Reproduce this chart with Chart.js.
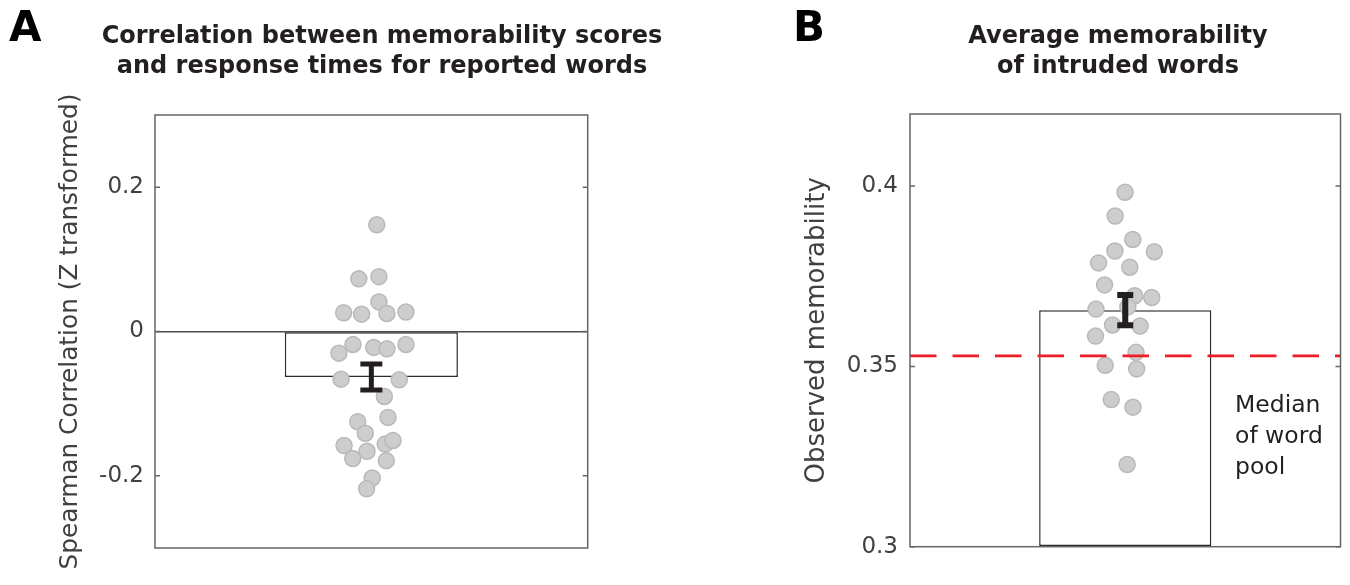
<!DOCTYPE html>
<html><head><meta charset="utf-8">
<script src="https://cdn.jsdelivr.net/npm/chart.js@4.4.0/dist/chart.umd.min.js"></script>
<style>
html,body{margin:0;padding:0;background:#fff;width:1350px;height:585px;overflow:hidden;}
canvas{position:absolute;top:0;}
#cA{left:0px} #cB{left:675px}
</style></head><body>
<canvas id="cA" width="675" height="585"></canvas>
<canvas id="cB" width="675" height="585"></canvas>
<script>
// ---------- data ----------
const panelLetters = ['A', 'B'];
const titleA = ['Correlation between memorability scores', 'and response times for reported words'];
const titleB = ['Average memorability', 'of intruded words'];
const yLabelA = 'Spearman Correlation (Z transformed)';
const yLabelB = 'Observed memorability';

const xRange = [0, 2];
const barX = 1;

const yRangeA = [-0.3, 0.3];
const yTicksA = [-0.2, 0, 0.2];
const yTickLabelsA = ['-0.2', '0', '0.2'];
const meanA = -0.063;
const semA = 0.018;
const subjXA = [1.025, 0.942, 1.035, 1.035, 0.872, 0.955, 1.072, 1.160, 0.850, 0.915, 1.011, 1.072, 1.160, 0.860,
                1.129, 1.060, 1.077, 0.937, 0.972, 0.874, 1.064, 1.100, 0.980, 0.914, 1.069, 1.004, 0.978];
const subjYA = [0.148, 0.073, 0.076, 0.041, 0.026, 0.024, 0.025, 0.027, -0.030, -0.018, -0.022, -0.024, -0.018, -0.066,
                -0.067, -0.090, -0.119, -0.125, -0.141, -0.158, -0.156, -0.151, -0.166, -0.176, -0.179, -0.203, -0.218];

const yRangeB = [0.3, 0.42];
const yTicksB = [0.3, 0.35, 0.4];
const yTickLabelsB = ['0.3', '0.35', '0.4'];
const meanB = 0.3656;
const semB = 0.0042;
const subjXB = [0.999, 0.953, 1.035, 0.952, 1.135, 0.876, 1.021, 0.904, 1.044, 1.123, 0.864, 1.012, 0.941, 1.069,
                0.862, 1.050, 0.907, 1.053, 0.935, 1.036, 1.009];
const subjYB = [0.3983, 0.3917, 0.3852, 0.3820, 0.3818, 0.3787, 0.3775, 0.3726, 0.3696, 0.3691, 0.3659, 0.3665, 0.3615, 0.3612,
                0.3584, 0.3539, 0.3503, 0.3493, 0.3408, 0.3387, 0.3228];
const medianWordPool = 0.3529;
const medianLabel = ['Median', 'of word', 'pool'];

// ---------- helpers ----------
const FONT = '"DejaVu Sans", "Liberation Sans", sans-serif';

const framePlugin = {
  id: 'frame',
  afterDraw(chart) {
    const {ctx, chartArea: a} = chart;
    const ys = chart.scales.y;
    ctx.save();
    ctx.strokeStyle = '#666666';
    ctx.lineWidth = 1.5;
    ctx.strokeRect(a.left, a.top, a.right - a.left, a.bottom - a.top);
    ctx.beginPath();
    ys.ticks.forEach(t => {
      const py = ys.getPixelForValue(t.value);
      ctx.moveTo(a.left, py); ctx.lineTo(a.left + 5, py);
      ctx.moveTo(a.right - 5, py); ctx.lineTo(a.right, py);
    });
    ctx.stroke();
    ctx.restore();
  }
};

function errorBarPlugin(mean, sem, capHalf, lw) {
  return {
    id: 'errbar',
    afterDatasetsDraw(chart) {
      const {ctx} = chart;
      const xs = chart.scales.x, ys = chart.scales.y;
      const px = xs.getPixelForValue(barX);
      const yt = ys.getPixelForValue(mean + sem);
      const yb = ys.getPixelForValue(mean - sem);
      ctx.save();
      ctx.strokeStyle = '#231f20';
      ctx.lineWidth = lw;
      ctx.lineCap = 'butt';
      ctx.beginPath();
      ctx.moveTo(px, yt); ctx.lineTo(px, yb);
      ctx.moveTo(px - capHalf, yt); ctx.lineTo(px + capHalf, yt);
      ctx.moveTo(px - capHalf, yb); ctx.lineTo(px + capHalf, yb);
      ctx.stroke();
      ctx.restore();
    }
  };
}

function textPlugin(items) {
  return {
    id: 'texts',
    afterDraw(chart) {
      const {ctx} = chart;
      ctx.save();
      items.forEach(it => {
        ctx.font = it.font;
        ctx.fillStyle = it.color;
        ctx.textAlign = it.align;
        ctx.textBaseline = 'alphabetic';
        ctx.fillText(it.text, it.x, it.y);
      });
      ctx.restore();
    }
  };
}

function pointsFrom(xs, ys) { return xs.map((x, i) => ({x: x, y: ys[i]})); }

function yScale(range, ticks, labels, width, pad, title, titleSize, titlePad, zeroLine) {
  return {
    min: range[0], max: range[1],
    afterFit: s => { s.width = width; },
    afterBuildTicks: s => { s.ticks = ticks.map(v => ({value: v})); },
    ticks: {
      padding: pad, color: '#404040', autoSkip: false,
      font: {family: FONT, size: 23},
      callback: v => labels[ticks.indexOf(v)]
    },
    grid: {
      drawTicks: false, lineWidth: 1.5,
      color: c => (zeroLine && c.tick && c.tick.value === 0) ? '#4d4d4d' : 'rgba(0,0,0,0)'
    },
    border: {display: false},
    title: {display: true, text: title, color: '#404040', font: {family: FONT, size: titleSize}, padding: {top: titlePad, bottom: 0}}
  };
}

const xScale = {
  type: 'linear', min: xRange[0], max: xRange[1], display: false, offset: false,
  ticks: {stepSize: 1}, grid: {offset: false}
};

const scatterStyle = {
  type: 'scatter', pointRadius: 8, pointBackgroundColor: '#cdcdcd',
  pointBorderColor: '#b9b9b9', pointBorderWidth: 1.5, order: 1
};

// ---------- chart A ----------
new Chart(document.getElementById('cA'), {
  type: 'bar',
  data: {
    datasets: [
      Object.assign({data: pointsFrom(subjXA, subjYA)}, scatterStyle),
      {type: 'bar', data: [{x: barX, y: meanA}], backgroundColor: '#ffffff', borderColor: '#2b2b2b',
       borderWidth: 1.5, borderSkipped: false, categoryPercentage: 1, barPercentage: 0.8, order: 2}
    ]
  },
  options: {
    responsive: false, animation: false, events: [],
    layout: {padding: {left: 0, right: 87.3, top: 115, bottom: 37}},
    plugins: {legend: {display: false}, tooltip: {enabled: false}},
    scales: {
      x: xScale,
      y: yScale(yRangeA, yTicksA, yTickLabelsA, 155, 11, yLabelA, 24.8, 56, true)
    }
  },
  plugins: [framePlugin, errorBarPlugin(meanA, semA, 11, 5), textPlugin([
    {text: panelLetters[0], x: 9, y: 40.5, font: 'bold 42px ' + FONT, color: '#000', align: 'left'},
    {text: titleA[0], x: 382, y: 43.3, font: 'bold 24px ' + FONT, color: '#231f20', align: 'center'},
    {text: titleA[1], x: 382, y: 72.7, font: 'bold 24px ' + FONT, color: '#231f20', align: 'center'}
  ])]
});

// ---------- chart B ----------
const offB = 675;
new Chart(document.getElementById('cB'), {
  type: 'bar',
  data: {
    datasets: [
      {type: 'line', data: [{x: xRange[0], y: medianWordPool}, {x: xRange[1], y: medianWordPool}],
       borderColor: '#ee1c25', borderWidth: 2.7, borderDash: [26.5, 16], pointRadius: 0, order: 0},
      Object.assign({data: pointsFrom(subjXB, subjYB)}, scatterStyle),
      {type: 'bar', data: [{x: barX, y: meanB}], base: yRangeB[0], backgroundColor: '#ffffff', borderColor: '#2b2b2b',
       borderWidth: 1.5, borderSkipped: false, categoryPercentage: 1, barPercentage: 0.8, order: 2}
    ]
  },
  options: {
    responsive: false, animation: false, events: [],
    layout: {padding: {left: 0, right: 7.7, top: 114, bottom: 38.3}},
    plugins: {legend: {display: false}, tooltip: {enabled: false}},
    scales: {
      x: xScale,
      y: yScale(yRangeB, yTicksB, yTickLabelsB, 235, 12, yLabelB, 26, 126.4, false)
    }
  },
  plugins: [framePlugin, errorBarPlugin(meanB, semB, 8, 6), textPlugin([
    {text: panelLetters[1], x: 793 - offB, y: 40.5, font: 'bold 42px ' + FONT, color: '#000', align: 'left'},
    {text: titleB[0], x: 1118 - offB, y: 43.3, font: 'bold 24px ' + FONT, color: '#231f20', align: 'center'},
    {text: titleB[1], x: 1118 - offB, y: 72.7, font: 'bold 24px ' + FONT, color: '#231f20', align: 'center'},
    {text: medianLabel[0], x: 1235 - offB, y: 411.7, font: '23.5px ' + FONT, color: '#231f20', align: 'left'},
    {text: medianLabel[1], x: 1235 - offB, y: 443.3, font: '23.5px ' + FONT, color: '#231f20', align: 'left'},
    {text: medianLabel[2], x: 1235 - offB, y: 474.3, font: '23.5px ' + FONT, color: '#231f20', align: 'left'}
  ])]
});
</script>
</body></html>
